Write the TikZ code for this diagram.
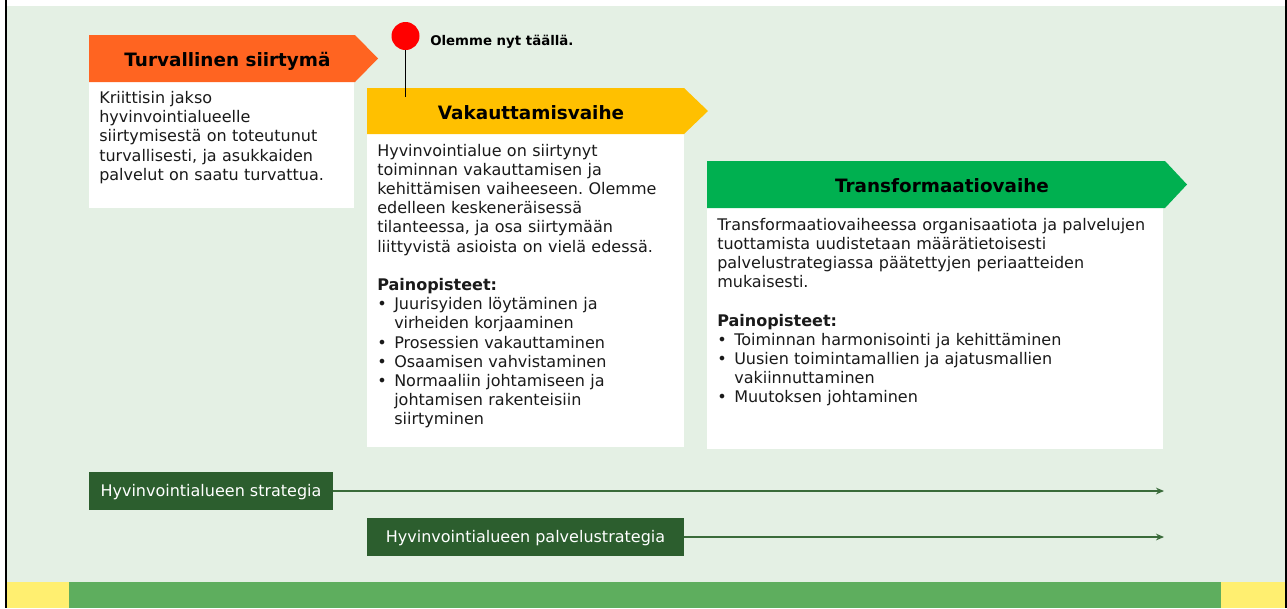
\documentclass[tikz,border=0pt]{standalone}
\usepackage{fontspec}
\setmainfont{DejaVu Sans}
\usetikzlibrary{arrows.meta}
\frenchspacing

\definecolor{bggreen}{HTML}{E4F0E4}
\definecolor{bandgreen}{HTML}{5EAE5E}
\definecolor{bandyellow}{HTML}{FFEF70}
\definecolor{phaseorange}{HTML}{FF6421}
\definecolor{phaseyellow}{HTML}{FFC000}
\definecolor{phasegreen}{HTML}{00B050}
\definecolor{stratgreen}{HTML}{2C5E2E}
\definecolor{linegreen}{HTML}{3A6B3A}
\definecolor{bodytext}{HTML}{1A1A1A}

\newcommand\pbull{\makebox[12.75pt][l]{•}}
\newcommand\pind{\hspace*{12.75pt}}

\begin{document}
\begin{tikzpicture}[x=0.75pt,y=-0.75pt,
  body/.style={anchor=base west,inner sep=0pt,align=left,text=bodytext,
    font=\fontsize{12}{14.4}\selectfont},
  head/.style={anchor=base,inner sep=0pt,font=\fontsize{13.8}{16}\selectfont\bfseries},
  strat/.style={fill=stratgreen,text=white,inner sep=0pt,minimum height=28.5pt,
    text height=8.75pt,text depth=0pt,font=\fontsize{12}{14}\selectfont},
  timeline/.style={draw=linegreen,line width=1.1pt,-{Stealth[length=6pt,width=5pt]}}]
\useasboundingbox (0,0) rectangle (1287,608);
% background and frame
\fill[white] (0,0) rectangle (1287,608);
\fill[bggreen] (7,6) rectangle (1284.5,582);
\fill[bandyellow] (7,582) rectangle (69,608);
\fill[bandgreen] (69,582) rectangle (1221,608);
\fill[bandyellow] (1221,582) rectangle (1284.5,608);
\fill[black] (5,0) rectangle (7,608);
\fill[black] (1284.5,0) rectangle (1287,608);

% phase 1
\fill[white] (89,82) rectangle (354,208);
\fill[phaseorange] (89,35) -- (355,35) -- (378,58.5) -- (355,82) -- (89,82) -- cycle;
\node[head] (turva) at (227.5,66) {Turvallinen siirtymä};
\node[body,text width=190pt] (turvatxt) at (99,103.5)
  {Kriittisin jakso\\
   hyvinvointialueelle\\
   siirtymisestä on toteutunut\\
   turvallisesti, ja asukkaiden\\
   palvelut on saatu turvattua.};

% phase 2
\fill[white] (367,134) rectangle (684,447);
\fill[phaseyellow] (367,88) -- (684,88) -- (708,111) -- (684,134) -- (367,134) -- cycle;
\node[head] (vakaus) at (531,119) {Vakauttamisvaihe};
\node[body,text width=225pt] (vakaustxt) at (377,156)
  {Hyvinvointialue on siirtynyt\\
   toiminnan vakauttamisen ja\\
   kehittämisen vaiheeseen. Olemme\\
   edelleen keskeneräisessä\\
   tilanteessa, ja osa siirtymään\\
   liittyvistä asioista on vielä edessä.\\[14.4pt]
   \textbf{Painopisteet:}\\
   \pbull Juurisyiden löytäminen ja\\
   \pind virheiden korjaaminen\\
   \pbull Prosessien vakauttaminen\\
   \pbull Osaamisen vahvistaminen\\
   \pbull Normaaliin johtamiseen ja\\
   \pind johtamisen rakenteisiin\\
   \pind siirtyminen};

% we are here
\node[circle,fill=red,minimum size=21pt,inner sep=0pt] (nyt) at (405.5,36) {};
\coordinate (pinend) at (405.5,97);
\draw[line width=1pt] (nyt.south) -- (pinend);
\node[anchor=base west,inner sep=0pt,font=\fontsize{10}{12}\selectfont\bfseries] (nytlabel) at (430,45) {Olemme nyt täällä.};

% phase 3
\fill[white] (707,208) rectangle (1163,449);
\fill[phasegreen] (707,161) -- (1165,161) -- (1187,184.5) -- (1165,208) -- (707,208) -- cycle;
\node[head] (transf) at (942,192.5) {Transformaatiovaihe};
\node[body,text width=334pt] (transftxt) at (717,230)
  {Transformaatiovaiheessa organisaatiota ja palvelujen\\
   tuottamista uudistetaan määrätietoisesti\\
   palvelustrategiassa päätettyjen periaatteiden\\
   mukaisesti.\\[14.4pt]
   \textbf{Painopisteet:}\\
   \pbull Toiminnan harmonisointi ja kehittäminen\\
   \pbull Uusien toimintamallien ja ajatusmallien\\
   \pind vakiinnuttaminen\\
   \pbull Muutoksen johtaminen};

% strategies
\node[strat,minimum width=183pt] (strat) at (211,491) {Hyvinvointialueen strategia};
\node[strat,minimum width=237.75pt] (palvstrat) at (525.5,537) {Hyvinvointialueen palvelustrategia};
\coordinate (stratend) at (1164,491);
\coordinate (palvend) at (1164,537);
\draw[timeline] (strat) -- (stratend);
\draw[timeline] (palvstrat) -- (palvend);
\end{tikzpicture}
\end{document}
